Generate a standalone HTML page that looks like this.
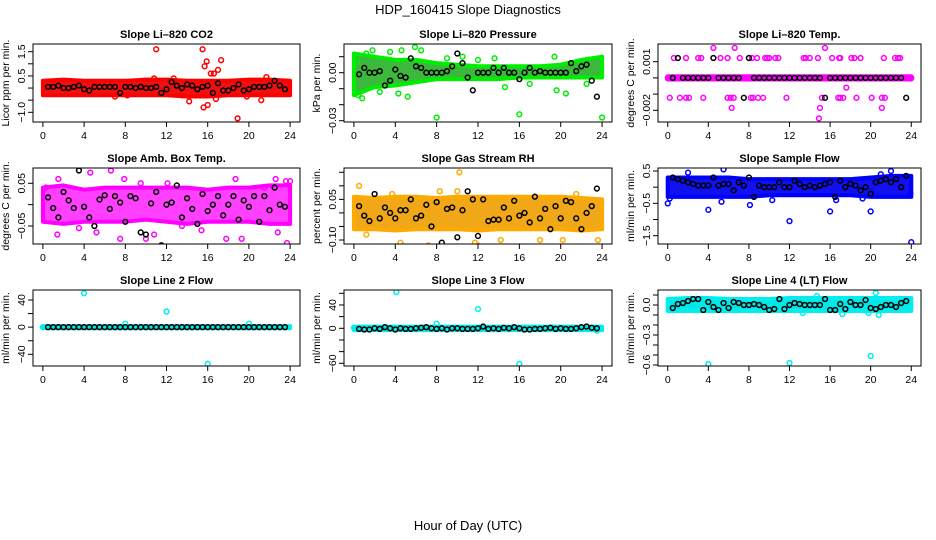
<!DOCTYPE html>
<html><head><meta charset="utf-8"><style>
html,body{margin:0;padding:0;background:#fff;}
svg{display:block;font-family:"Liberation Sans",sans-serif;}
</style></head><body>
<svg id="chart" width="936" height="540" viewBox="0 0 936 540">
<text x="468" y="14" text-anchor="middle" font-size="13">HDP_160415  Slope Diagnostics</text>
<text x="468" y="530" text-anchor="middle" font-size="13">Hour of Day (UTC)</text>
</svg>
<script>
// ---- data ----
const hourTicks = [0,4,8,12,16,20,24];
const bandHours = [0,2,4,6,8,10,12,14,16,18,20,22,24];

const co2Black = [0.05,0.05,0.1,0.0,0.0,0.05,0.1,-0.05,-0.1,0.05,0.05,0.05,0.05,0.05,-0.2,0.05,0.05,0.0,0.05,0.0,0.0,0.05,-0.2,-0.05,0.25,0.1,0.0,0.15,0.1,-0.05,0.05,0.1,-0.2,0.2,-0.1,-0.1,0.0,0.15,-0.1,-0.05,0.05,0.05,0.05,0.1,0.3,0.1,-0.05];
const co2Lo = [-0.3,-0.3,-0.3,-0.3,-0.3,-0.3,-0.3,-0.35,-0.35,-0.3,-0.3,-0.3,-0.3];
const co2Hi = [0.3,0.35,0.3,0.3,0.3,0.35,0.35,0.3,0.3,0.3,0.35,0.35,0.3];
const co2Pts = [[11,1.6],[15.5,1.6],[15.7,0.9],[15.9,1.1],[16.3,0.6],[16.6,0.6],[17,0.75],[17.3,1.15],[15.6,-0.8],[16,-0.7],[16.8,-0.45],[14.2,-0.55],[18.9,-1.25],[21.2,-0.5],[7,-0.35],[8.2,-0.3],[13.5,-0.3],[19.8,-0.35],[21.7,0.45],[10.8,0.4],[12.7,0.4]];

const presBlack = [-0.001,0.003,0,0,0.001,-0.008,-0.005,0.002,-0.002,-0.003,0.009,0.004,0.003,0,0,0,0,0.001,0.004,0.012,0.006,-0.003,-0.011,0,0,0,0.003,0,0.003,0,0,-0.004,0,0.003,0,0.001,0,0,0,0,0,0.006,0.001,0.004,0.005,-0.005,-0.015];
const presLo = [-0.014,-0.009,-0.008,-0.006,-0.004,-0.004,-0.004,-0.004,-0.003,-0.003,-0.003,-0.003,-0.003];
const presHi = [0.012,0.01,0.008,0.008,0.006,0.005,0.004,0.004,0.004,0.004,0.005,0.008,0.01];
const presPts = [[0.3,0.007],[0.4,-0.014],[1.2,0.012],[1.8,0.014],[3.5,0.013],[4.6,0.014],[5.9,0.016],[6.5,0.014],[8,-0.028],[10.5,0.01],[16,-0.026],[24,-0.028],[14.6,-0.009],[17,-0.007],[19.6,-0.011],[20.5,-0.013],[22.5,-0.007],[19.4,0.01],[9,0.009],[4.3,-0.013],[5.2,-0.015],[0.8,-0.016],[2.5,-0.012],[12,0.008],[13.6,0.009]];

const tempBlack = [0,0.00123,0,0,0,0,0,0,0.00123,0,0,0,0,0,-0.00123,0.00123,0,0,0,0,0,0,0,0,0,0,0,0,0,0,-0.00123,0,0,0,0,0,0,0,0,0,0,0,0,0,0,0,-0.00123];
const tempLo = [-0.0001,-0.0001,-0.0001,-0.0001,-0.0001,-0.0001,-0.0001,-0.0001,-0.0001,-0.0001,-0.0001,-0.0001,-0.0001];
const tempHi = [0.0001,0.0001,0.0001,0.0001,0.0001,0.0001,0.0001,0.0001,0.0001,0.0001,0.0001,0.0001,0.0001];
const tempPts = [[4.5,0.00185],[6.6,0.00185],[15.5,0.00185],[0.6,0.00123],[1.8,0.00123],[3,0.00123],[3.3,0.00123],[5.2,0.00123],[5.9,0.00123],[7.1,0.00123],[8.3,0.00123],[8.8,0.00123],[9.6,0.00123],[9.8,0.00123],[10,0.00123],[10.6,0.00123],[10.9,0.00123],[13.4,0.00123],[13.6,0.00123],[14,0.00123],[14.8,0.00123],[16.2,0.00123],[16.9,0.00123],[17,0.00123],[18.1,0.00123],[18.4,0.00123],[19,0.00123],[21.3,0.00123],[22.4,0.00123],[22.7,0.00123],[22.9,0.00123],[0.2,-0.00123],[1.2,-0.00123],[1.8,-0.00123],[2.1,-0.00123],[3.5,-0.00123],[5.9,-0.00123],[6.2,-0.00123],[6.5,-0.00123],[8.2,-0.00123],[8.4,-0.00123],[8.9,-0.00123],[9.4,-0.00123],[11.7,-0.00123],[15.2,-0.00123],[16.8,-0.00123],[17,-0.00123],[17.3,-0.00123],[18.6,-0.00123],[20.1,-0.00123],[21.1,-0.00123],[21.4,-0.00123],[6.3,-0.00185],[15,-0.00185],[21.1,-0.00185],[14.9,-0.0025],[17.6,-0.0006],[0,0],[24,0]];

const ambBlack = [0.017,-0.008,-0.03,0.03,0.01,-0.008,0.08,-0.005,-0.03,-0.05,0.012,0.022,-0.01,0.02,0.005,-0.04,0.02,0.015,-0.065,-0.07,0.003,0.03,-0.095,0,0.005,0.045,-0.03,0.015,-0.01,-0.045,0.025,-0.015,0.0,0.02,-0.025,0.0,0.02,-0.035,0.01,-0.005,0.02,-0.04,0.02,-0.013,0.04,0.0,-0.005];
const ambLo = [-0.04,-0.045,-0.04,-0.04,-0.04,-0.035,-0.04,-0.045,-0.04,-0.04,-0.04,-0.045,-0.045];
const ambHi = [0.04,0.045,0.035,0.04,0.04,0.04,0.04,0.04,0.035,0.04,0.04,0.045,0.045];
const ambPts = [[0.3,0.04],[1.5,0.06],[1.4,-0.07],[3.5,-0.055],[4.6,0.075],[5.2,-0.065],[6.6,0.08],[7.9,0.06],[7.5,-0.08],[10,-0.08],[10.8,-0.07],[12.1,0.05],[13.5,-0.05],[17.8,-0.08],[18.7,0.06],[19.3,-0.08],[22.6,0.06],[22.8,-0.065],[23.7,-0.09],[23.6,0.055],[24,0.055],[9.5,0.05],[15.4,-0.06],[21.5,0.04]];

const rhBlack = [0.025,-0.01,-0.03,0.07,-0.02,0.02,0.0,-0.02,0.01,0.01,0.05,-0.02,-0.01,0.03,-0.05,0.04,-0.11,0.015,0.02,-0.09,0.01,0.08,0.05,-0.085,0.05,-0.03,-0.025,-0.025,0.02,-0.02,0.045,-0.01,0.0,-0.035,0.06,-0.02,0.015,-0.06,0.025,-0.02,0.045,0.04,-0.02,-0.06,0.0,0.025,0.09];
const rhLo = [-0.06,-0.06,-0.065,-0.06,-0.06,-0.06,-0.065,-0.06,-0.06,-0.06,-0.06,-0.065,-0.06];
const rhHi = [0.06,0.055,0.06,0.06,0.055,0.06,0.06,0.06,0.06,0.06,0.06,0.055,0.05];
const rhPts = [[0.5,0.1],[4.5,-0.11],[7.2,-0.12],[10.2,0.15],[10,0.08],[8.3,0.08],[12,-0.12],[11.7,-0.11],[14.2,-0.1],[18,-0.1],[20.2,-0.1],[21.5,0.07],[23.6,-0.1],[3.7,0.07],[1.2,-0.08]];

const flowBlack = [0.3,0.25,0.2,0.15,0.1,0.05,0.05,0.05,0.3,0.05,0.1,0.1,-0.1,0.15,0.05,0.3,-0.3,0.05,0.0,0.0,0.0,0.15,0.0,0.0,0.2,0.1,0.0,0.05,0.0,0.05,0.1,0.15,-0.3,0.2,0.0,0.1,0.05,-0.1,0.0,-0.2,0.15,0.2,0.25,0.15,0.25,0.0,0.35];
const flowLo = [-0.3,-0.3,-0.3,-0.3,-0.3,-0.25,-0.25,-0.25,-0.25,-0.25,-0.3,-0.3,-0.3];
const flowHi = [0.3,0.3,0.3,0.3,0.25,0.25,0.25,0.25,0.25,0.25,0.3,0.35,0.35];
const flowPts = [[0,-0.5],[0.2,-0.35],[2,0.45],[4,-0.7],[5.5,0.55],[5.3,-0.45],[8.1,-0.55],[10.3,-0.4],[12,-1.05],[16,-0.75],[16.6,-0.4],[19.2,-0.35],[20,-0.75],[21,0.4],[22,0.5],[24,-1.7],[23.9,-0.2]];

const l2Black = [0,0,0,0,0,0,0,0,0,0,0,0,0,0,0,0,0,0,0,0,0,0,0,0,0,0,0,0,0,0,0,0,0,0,0,0,0,0,0,0,0,0,0,0,0,0,0];
const l2Lo = [-1.5,-1.5,-1.5,-1.5,-1.5,-1.5,-1.5,-1.5,-1.5,-1.5,-1.5,-1.5,-1.5];
const l2Hi = [1.5,1.5,1.5,1.5,1.5,1.5,1.5,1.5,1.5,1.5,1.5,1.5,1.5];
const l2Pts = [[0,0],[4,50],[8,5],[12,23],[16,-54],[20,5]];

const l3Black = [-1,-2,-2,0,-1,2,0,-2,0,-1,-1,0,1,2,0,-1,0,-2,0,0,-1,-1,-1,0,3,-1,0,-1,1,0,2,0,-2,-2,-1,-1,0,1,-1,0,-1,-1,0,2,3,1,0];
const l3Lo = [-3,-3,-3,-3,-3,-3,-3,-3,-3,-3,-3,-3,-3];
const l3Hi = [3,3,3,3,3,3,3,3,3,3,3,3,3];
const l3Pts = [[0,1],[4.1,62],[8,8],[12,33],[16,-61],[23.5,-4]];

const l4Black = [-0.03,0.01,0.02,0.04,0.06,0.06,-0.05,0.03,-0.02,-0.05,0.02,-0.03,0.03,0.02,0.0,0.0,0.01,0.0,-0.02,-0.05,-0.04,0.06,-0.04,0.0,0.02,0.01,0.0,0.0,0.0,0.0,0.06,-0.05,-0.05,0.01,-0.04,0.03,0.0,0.0,0.05,-0.03,-0.04,-0.02,0.0,0.0,-0.02,0.02,0.04];
const l4Lo = [-0.06,-0.06,-0.06,-0.06,-0.06,-0.06,-0.06,-0.06,-0.06,-0.06,-0.06,-0.06,-0.06];
const l4Hi = [0.06,0.07,0.07,0.06,0.06,0.06,0.07,0.07,0.07,0.07,0.07,0.07,0.07];
const l4Pts = [[4,-0.59],[12,-0.58],[20,-0.51],[20.5,0.12],[19.8,-0.08],[17.2,-0.09],[20.8,-0.1],[14.7,0.09],[13.3,-0.08]];

const panelTitles = ["Slope Li\u2013820 CO2","Slope Li\u2013820 Pressure","Slope Li\u2013820 Temp.","Slope Amb. Box Temp.","Slope Gas Stream RH","Slope Sample Flow","Slope Line 2 Flow","Slope Line 3 Flow","Slope Line 4 (LT) Flow"];
const yTitles = ["Licor ppm per min.","kPa per min.","degrees C per min.","degrees C per min.","percent per min.","ml/min per min.","ml/min per min.","ml/min per min.","ml/min per min."];

// ---- layout ----
const NS = "http://www.w3.org/2000/svg";
const svg = document.getElementById("chart");
function mk(tag, attrs, parent){const e=document.createElementNS(NS,tag);for(const k in attrs)e.setAttribute(k,attrs[k]);(parent||svg).appendChild(e);return e;}

const panels = [
 {box:[33,44,300,122], map:[1.5,51.7,-1,112.3], ticks:[1.5,1,0.5,0,-0.5,-1], labs:{"1.5":"1.5","0.5":"0.5","-1":"\u22121.0"}, black:co2Black, lo:co2Lo, hi:co2Hi, pts:co2Pts, col:"#ff0000", band:"#f01010", key:"co2"},
 {box:[344,44,612,122], map:[0.01,56.7,-0.03,120.7], ticks:[0.01,0,-0.01,-0.02,-0.03], labs:{"0":"0.00","-0.03":"\u22120.03"}, black:presBlack, lo:presLo, hi:presHi, pts:presPts, col:"#00ee00", band:"#3cb83c", key:"pressure"},
 {box:[658,44,921,122], map:[0.001,61.7,-0.002,110.3], ticks:[0.001,0,-0.001,-0.002], labs:{"0.001":"0.001","-0.002":"\u22120.002"}, black:tempBlack, lo:tempLo, hi:tempHi, pts:tempPts, col:"#ff00ff", band:"#ff00ff", key:"temp"},
 {box:[33,168,300,244], map:[0.05,183.3,-0.05,226], ticks:[0.05,0,-0.05], labs:{"0.05":"0.05","-0.05":"\u22120.05"}, black:ambBlack, lo:ambLo, hi:ambHi, pts:ambPts, col:"#ff00ff", band:"#ff40ff", key:"amb-box-temp"},
 {box:[344,168,612,244], map:[0.15,172.3,-0.1,240], ticks:[0.15,0.1,0.05,0,-0.05,-0.1], labs:{"0.05":"0.05","-0.1":"\u22120.10"}, black:rhBlack, lo:rhLo, hi:rhHi, pts:rhPts, col:"#ffaa00", band:"#f0a818", key:"gas-stream-rh"},
 {box:[658,168,921,244], map:[0.5,171,-1.5,235.7], ticks:[0.5,0,-0.5,-1,-1.5], labs:{"0.5":"0.5","-0.5":"\u22120.5","-1.5":"\u22121.5"}, black:flowBlack, lo:flowLo, hi:flowHi, pts:flowPts, col:"#0000ff", band:"#1010f0", key:"sample-flow"},
 {box:[33,290,300,366], map:[40,300,-40,354.3], ticks:[40,20,0,-20,-40], labs:{"40":"40","0":"0","-40":"\u221240"}, black:l2Black, lo:l2Lo, hi:l2Hi, pts:l2Pts, col:"#00eeee", band:"#00e8e8", key:"line2-flow"},
 {box:[344,290,612,366], map:[60,293.3,-60,363.3], ticks:[60,40,20,0,-20,-40,-60], labs:{"40":"40","0":"0","-60":"\u221260"}, black:l3Black, lo:l3Lo, hi:l3Hi, pts:l3Pts, col:"#00eeee", band:"#00e8e8", key:"line3-flow"},
 {box:[658,290,921,366], map:[0.1,295,-0.6,365], ticks:[0.1,0,-0.1,-0.2,-0.3,-0.4,-0.5,-0.6], labs:{"0":"0.0","-0.3":"\u22120.3","-0.6":"\u22120.6"}, black:l4Black, lo:l4Lo, hi:l4Hi, pts:l4Pts, col:"#00eeee", band:"#00e8e8", key:"line4-flow"}
];

panels.forEach((p,pi)=>{
  const [x0,y0,x1,y1]=p.box;
  const g=mk("g",{});
  
  
  const sx=h=>x0+(h+0.96)/25.92*(x1-x0);
  const [va,pa,vb,pb]=p.map;
  const sy=v=>pa+(v-va)*(pb-pa)/(vb-va);
  const clip="clip"+pi;
  const cp=mk("clipPath",{id:clip},g); mk("rect",{x:x0,y:y0,width:x1-x0,height:y1-y0},cp);
  const data=mk("g",{"clip-path":"url(#"+clip+")"},g);
  let d="";
  bandHours.forEach((h,i)=>{d+=(i?"L":"M")+sx(h).toFixed(1)+","+sy(p.hi[i]).toFixed(1);});
  for(let i=bandHours.length-1;i>=0;i--) d+="L"+sx(bandHours[i]).toFixed(1)+","+sy(p.lo[i]).toFixed(1);
  const band=mk("path",{d:d+"Z",fill:p.band,stroke:p.col,"stroke-width":4,"stroke-linejoin":"round"},data);
  
  
  p.pts.forEach(pt=>{
    const c=mk("circle",{cx:sx(pt[0]),cy:sy(pt[1]),r:2.4,fill:"none",stroke:p.col,"stroke-width":1.5},data);
    
    
  });
  p.black.forEach((v,i)=>{
    const c=mk("circle",{cx:sx(0.5+i*0.5),cy:sy(v),r:2.4,fill:"none",stroke:"#000","stroke-width":1.5},data);
    
    
  });
  const bx=mk("rect",{x:x0,y:y0,width:x1-x0,height:y1-y0,fill:"none",stroke:"#000","stroke-width":1},g);
  
  
  hourTicks.forEach(h=>{
    mk("line",{x1:sx(h),x2:sx(h),y1:y1,y2:y1+5,stroke:"#000"},g);
    const t=mk("text",{x:sx(h),y:y1+17,"text-anchor":"middle","font-size":10.5},g);
    t.textContent=h;
    
    
  });
  const tv=p.ticks;
  mk("line",{x1:x0,x2:x0,y1:sy(tv[0]),y2:sy(tv[tv.length-1]),stroke:"#000"},g);
  tv.forEach(v=>{
    mk("line",{x1:x0-5,x2:x0,y1:sy(v),y2:sy(v),stroke:"#000"},g);
    const lab=p.labs[String(v)];
    if(lab){
      const t=mk("text",{x:0,y:0,"text-anchor":"middle","font-size":10.5,transform:"translate("+(x0-8)+","+sy(v).toFixed(1)+") rotate(-90)"},g);
      t.textContent=lab;
      
      
    }
  });
  const yt=mk("text",{x:0,y:0,"text-anchor":"middle","font-size":10.5,transform:"translate("+(x0-24)+","+((y0+y1)/2)+") rotate(-90)"},g);
  yt.textContent=yTitles[pi];
  
  
  const tt=mk("text",{x:(x0+x1)/2,y:y0-6,"text-anchor":"middle","font-size":11,"font-weight":"bold"},g);
  tt.textContent=panelTitles[pi];
  
  
});
</script>
</body></html>
